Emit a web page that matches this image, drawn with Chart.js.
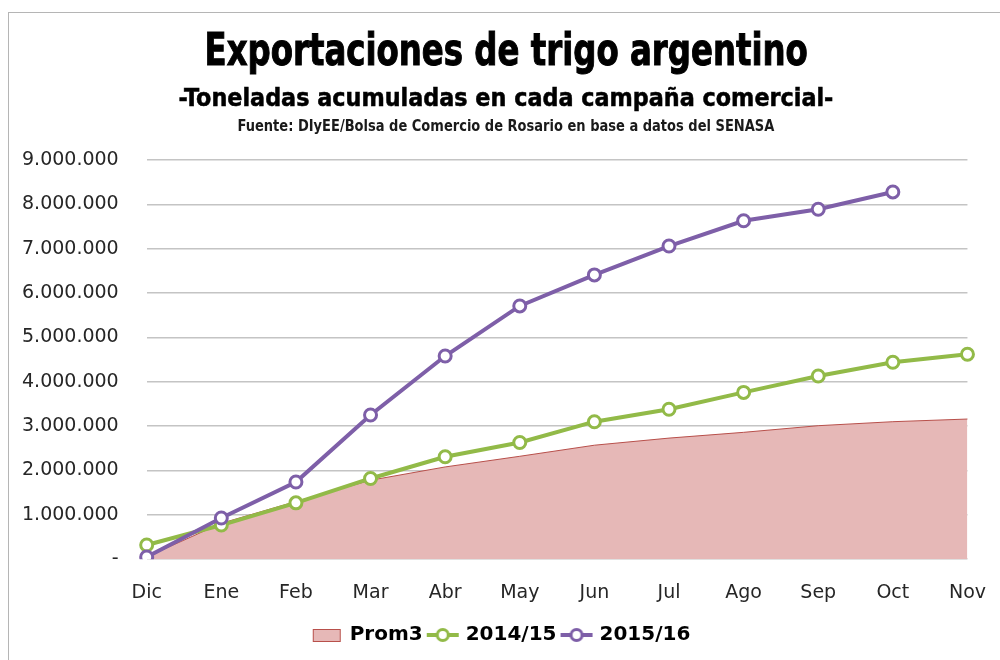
<!DOCTYPE html>
<html>
<head>
<meta charset="utf-8">
<script src="https://cdn.jsdelivr.net/npm/chart.js@4.4.1/dist/chart.umd.min.js"></script>
<style>
  body { margin: 0; background: #fff; }
  #wrap { position: relative; width: 1000px; height: 660px; overflow: hidden; }
  #frame { position: absolute; left: 8px; top: 12px; width: 1200px; height: 900px;
           border-left: 1px solid #b5b5b5; border-top: 1px solid #b5b5b5; }
  .head { position: absolute; left: 0; width: 1012px; text-align: center; white-space: nowrap;
          font-family: "DejaVu Sans Condensed", "DejaVu Sans"; font-weight: bold; color: #000; }
  .head span { display: inline-block; transform-origin: center; }
  #t1 { top: 27px; font-size: 45px; line-height: 45px; -webkit-text-stroke: 1px #000; }
  #t2 { top: 85px; font-size: 25px; line-height: 25px; -webkit-text-stroke: 0.5px #000; }
  #t3 { top: 119px; font-size: 15px; line-height: 15px; color: #1a1a1a; }
  canvas { position: absolute; left: 0; top: 0; }
</style>
</head>
<body>
<div id="wrap">
  <div id="frame"></div>
  <canvas id="expChart" width="1000" height="660"></canvas>
  <div class="head" id="t1"><span data-w="603">Exportaciones de trigo argentino</span></div>
  <div class="head" id="t2"><span data-w="655">-Toneladas acumuladas en cada campaña comercial-</span></div>
  <div class="head" id="t3"><span data-w="537">Fuente: DIyEE/Bolsa de Comercio de Rosario en base a datos del SENASA</span></div>
</div>
<script>
// squeeze the heading lines to the widths of the original
document.querySelectorAll('.head span').forEach(function (el) {
  el.style.transform = 'scaleX(' + (el.dataset.w / el.offsetWidth) + ')';
});

const meses = ['Dic', 'Ene', 'Feb', 'Mar', 'Abr', 'May', 'Jun', 'Jul', 'Ago', 'Sep', 'Oct', 'Nov'];

// toneladas acumuladas
const prom3 = [50000, 810000, 1300000, 1780000, 2080000, 2320000, 2570000, 2730000, 2860000, 3010000, 3100000, 3160000];
const camp1415 = [320000, 770000, 1270000, 1820000, 2310000, 2630000, 3100000, 3380000, 3760000, 4130000, 4440000, 4620000];
const camp1516 = [50000, 930000, 1740000, 3250000, 4580000, 5710000, 6410000, 7060000, 7630000, 7890000, 8280000, null];

const yTicks = [0, 1000000, 2000000, 3000000, 4000000, 5000000, 6000000, 7000000, 8000000, 9000000];

const colPink = '#E6B8B7';
const colPinkLine = '#B8504B';
const colGreen = '#92BA48';
const colPurple = '#7E5FA8';

function fmt(v) {
  if (v === 0) return '-';
  return String(v).replace(/\B(?=(\d{3})+(?!\d))/g, '.');
}

// legend symbols like Excel: box for area, line with marker for series
function boxSymbol() {
  const c = document.createElement('canvas');
  c.width = 30; c.height = 16;
  const g = c.getContext('2d');
  g.fillStyle = colPink;
  g.strokeStyle = colPinkLine;
  g.lineWidth = 1;
  g.fillRect(1.5, 2.5, 27, 12);
  g.strokeRect(1.5, 2.5, 27, 12);
  return c;
}
function lineSymbol(color) {
  const c = document.createElement('canvas');
  c.width = 34; c.height = 18;
  const g = c.getContext('2d');
  g.strokeStyle = color;
  g.lineWidth = 4;
  g.beginPath(); g.moveTo(1, 9); g.lineTo(33, 9); g.stroke();
  g.lineWidth = 3;
  g.fillStyle = '#fff';
  g.beginPath(); g.arc(17, 9, 5.5, 0, Math.PI * 2); g.fill(); g.stroke();
  return c;
}

// the legend in the original sits a bit right of the canvas centre
const legendShift = {
  id: 'legendShift',
  afterLayout: function (chart) {
    chart.legend.left += 12;
    chart.legend.right += 12;
  }
};

const ctx = document.getElementById('expChart').getContext('2d');
const expChart = new Chart(ctx, {
  type: 'line',
  data: {
    labels: meses,
    datasets: [
      {
        label: 'Prom3',
        data: prom3,
        order: 2,
        borderColor: colPinkLine,
        borderWidth: 1,
        backgroundColor: colPink,
        fill: 'origin',
        pointRadius: 0,
        tension: 0
      },
      {
        label: '2014/15',
        data: camp1415,
        order: 1,
        borderColor: colGreen,
        borderWidth: 4,
        pointRadius: 6,
        pointBorderWidth: 3,
        pointBackgroundColor: '#fff',
        pointBorderColor: colGreen,
        fill: false,
        tension: 0
      },
      {
        label: '2015/16',
        data: camp1516,
        order: 0,
        borderColor: colPurple,
        borderWidth: 4,
        pointRadius: 6,
        pointBorderWidth: 3,
        pointBackgroundColor: '#fff',
        pointBorderColor: colPurple,
        fill: false,
        tension: 0
      }
    ]
  },
  plugins: [legendShift],
  options: {
    responsive: false,
    animation: false,
    layout: { padding: { top: 160, left: -6, right: 14, bottom: 5 } },
    plugins: {
      title: { display: false },
      tooltip: { enabled: false },
      legend: {
        position: 'bottom',
        labels: {
          usePointStyle: true,
          pointStyleWidth: 26,
          padding: 7,
          color: '#000',
          font: { family: 'DejaVu Sans', size: 20, weight: 'bold' },
          generateLabels: function () {
            return [
              { text: 'Prom3', pointStyle: boxSymbol(), datasetIndex: 0, lineWidth: 0 },
              { text: '2014/15', pointStyle: lineSymbol(colGreen), datasetIndex: 1, lineWidth: 0 },
              { text: '2015/16', pointStyle: lineSymbol(colPurple), datasetIndex: 2, lineWidth: 0 }
            ];
          }
        }
      }
    },
    scales: {
      x: {
        offset: false,
        grid: { display: false },
        border: { display: false },
        ticks: {
          color: '#262626',
          padding: 14,
          maxRotation: 0,
          font: { family: 'DejaVu Sans', size: 19 }
        }
      },
      y: {
        min: 0,
        max: 9000000,
        afterBuildTicks: function (axis) {
          axis.ticks = yTicks.map(function (v) { return { value: v }; });
        },
        grid: { color: '#c4c4c4', lineWidth: 1.5, drawTicks: false },
        border: { display: false },
        ticks: {
          color: '#262626',
          padding: 28,
          font: { family: 'DejaVu Sans', size: 19 },
          callback: function (v) { return fmt(v); }
        }
      }
    }
  }
});
</script>
</body>
</html>
